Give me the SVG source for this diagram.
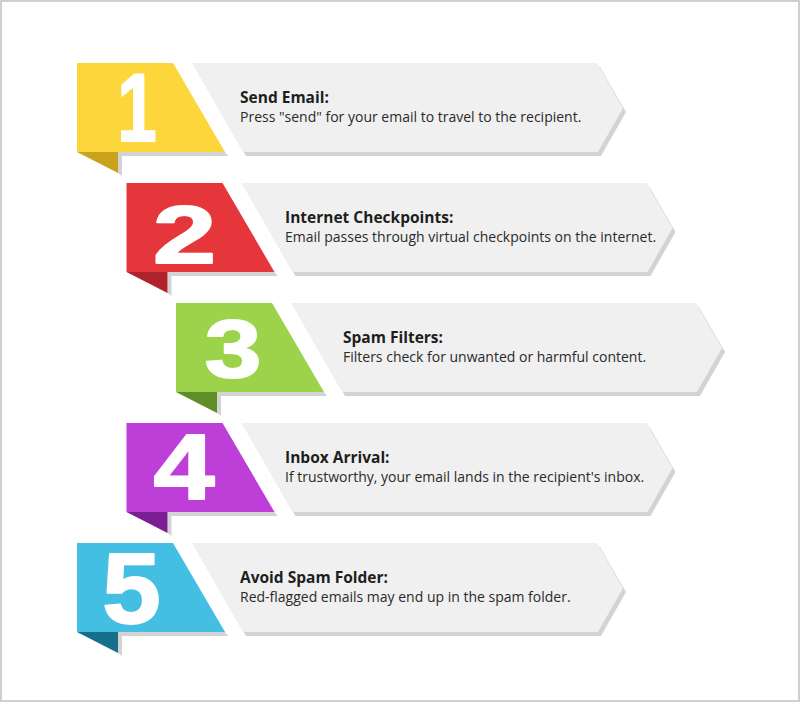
<svg xmlns="http://www.w3.org/2000/svg" width="800" height="702" viewBox="0 0 800 702">
<defs>
<style>
.bg{fill:#ffffff}
.frame{fill:none;stroke:#cfcfcf;stroke-width:2}
.arrow{fill:#f0f0f0}
.ashadow{fill:#d3d3d3}
.tshadow{fill:#d3d3d3}
.title{font-family:"Open Sans","Noto Sans",sans-serif;font-weight:bold;font-size:15.5px;fill:#1e1e1e}
.desc{font-family:"Open Sans","Noto Sans",sans-serif;font-size:14px;fill:#2a2a2a}
.num{font-family:"Liberation Sans",Arial,sans-serif;font-weight:bold;fill:#ffffff;stroke:#ffffff;stroke-width:2;stroke-linejoin:round;text-anchor:middle}
</style>
<g id="base">
<polygon class="ashadow" points="195,67 600,67 626,112 601,156 246,156"/>
<polygon class="arrow" points="192,63 597,63 623,108 598,152 243,152"/>
<polygon class="tshadow" points="118,152 225,152 228,156 122,156 122,176 118,173"/>
</g>
</defs>
<rect class="bg" x="0" y="0" width="800" height="702"/>
<rect class="frame" x="1" y="1" width="798" height="700"/>

<g id="step1">
<use href="#base"/>
<polygon fill="#c9a31b" points="77,152 118,152 118,173"/>
<polygon fill="#fdd63c" points="77,63 173,63 225,152 77,152"/>
<text class="num" font-size="96" transform="translate(137,140.7) scale(0.74,1)">1</text>
<text class="title" x="240" y="102.5">Send Email:</text>
<text class="desc" x="240" y="121.5">Press "send" for your email to travel to the recipient.</text>
</g>

<g id="step2" transform="translate(49.5,120)">
<use href="#base"/>
<polygon fill="#b0232a" points="77,152 118,152 118,173"/>
<polygon fill="#e5373b" points="77,63 173,63 225,152 77,152"/>
<text class="num" font-size="81" transform="translate(135,142.5) scale(1.40,1)">2</text>
</g>
<g id="step2-text">
<text class="title" x="285" y="222.5">Internet Checkpoints:</text>
<text class="desc" x="285" y="241.5">Email passes through virtual checkpoints on the internet.</text>
</g>

<g id="step3" transform="translate(99,240)">
<use href="#base"/>
<polygon fill="#5e8e25" points="77,152 118,152 118,173"/>
<polygon fill="#9dd34b" points="77,63 173,63 225,152 77,152"/>
<text class="num" font-size="82" transform="translate(134,137) scale(1.24,1)">3</text>
</g>
<g id="step3-text">
<text class="title" x="343" y="342.5">Spam Filters:</text>
<text class="desc" x="343" y="361.5">Filters check for unwanted or harmful content.</text>
</g>

<g id="step4" transform="translate(49.5,360)">
<use href="#base"/>
<polygon fill="#7a1f93" points="77,152 118,152 118,173"/>
<polygon fill="#be3ed8" points="77,63 173,63 225,152 77,152"/>
<text class="num" font-size="93" transform="translate(134.5,139.2) scale(1.18,1)">4</text>
</g>
<g id="step4-text">
<text class="title" x="285" y="462.5">Inbox Arrival:</text>
<text class="desc" x="285" y="481.5">If trustworthy, your email lands in the recipient's inbox.</text>
</g>

<g id="step5" transform="translate(0,480)">
<use href="#base"/>
<polygon fill="#16708c" points="77,152 118,152 118,173"/>
<polygon fill="#44bee2" points="77,63 173,63 225,152 77,152"/>
<text class="num" font-size="100" transform="translate(131.5,143.2) scale(1.05,1)">5</text>
</g>
<g id="step5-text">
<text class="title" x="240" y="582.5">Avoid Spam Folder:</text>
<text class="desc" x="240" y="601.5">Red-flagged emails may end up in the spam folder.</text>
</g>
</svg>
